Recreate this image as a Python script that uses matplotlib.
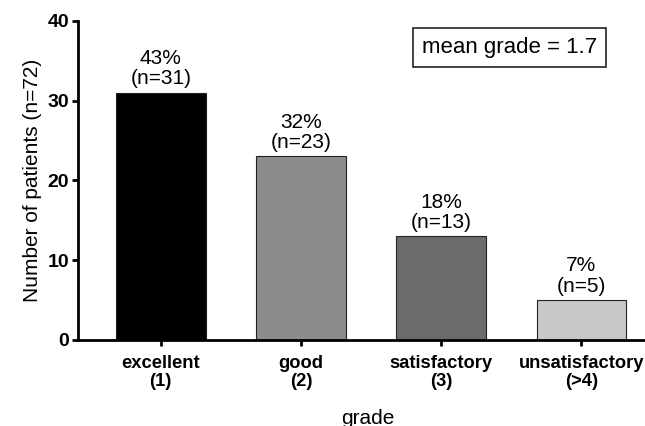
import matplotlib
matplotlib.use("Agg")
import matplotlib.pyplot as plt

plt.rcParams["font.family"] = ["Liberation Sans", "DejaVu Sans"]

categories = ["excellent\n(1)", "good\n(2)", "satisfactory\n(3)", "unsatisfactory\n(>4)"]
counts = [31, 23, 13, 5]
percents = [43, 32, 18, 7]
colors = ["#000000", "#8c8c8c", "#6b6b6b", "#c8c8c8"]
n_total = 72
mean_grade = 1.7

fig = plt.figure(figsize=(6.45, 4.26), dpi=100)
ax = fig.add_axes([0.121, 0.202, 0.90, 0.749])

x = list(range(len(categories)))
ax.bar(x, counts, width=0.64, color=colors, edgecolor="#222222", linewidth=0.8, zorder=2)

for xi, c, p in zip(x, counts, percents):
    ax.annotate(f"{p}%\n(n={c})", (xi, c), xytext=(0, 3), textcoords="offset points",
                ha="center", va="bottom", fontsize=15, linespacing=1.1)

ax.set_xlim(-0.59, 3.55)
ax.set_ylim(0, 40)
ax.set_yticks([0, 10, 20, 30, 40])
ax.set_xticks(x)
ax.set_xticklabels(categories, fontsize=13.2, fontweight="bold", linespacing=1.15)
for lbl in ax.get_yticklabels():
    lbl.set_fontweight("bold")
    lbl.set_fontsize(14)

ax.spines["top"].set_visible(False)
ax.spines["right"].set_visible(False)
ax.spines["left"].set_linewidth(2)
ax.spines["bottom"].set_linewidth(2)
ax.tick_params(axis="both", width=2, length=4.5, direction="out", pad=2)
ax.tick_params(axis="x", pad=6)

ax.set_ylabel(f"Number of patients (n={n_total})", fontsize=15, labelpad=4)
ax.set_xlabel("grade", fontsize=15, labelpad=13)

ax.text(0.743, 0.917, f"mean grade = {mean_grade}", transform=ax.transAxes,
        ha="center", va="center", fontsize=16,
        bbox=dict(boxstyle="square,pad=0.4", facecolor="white", edgecolor="#222222", linewidth=1.2))

fig.savefig("out.png", dpi=100)
